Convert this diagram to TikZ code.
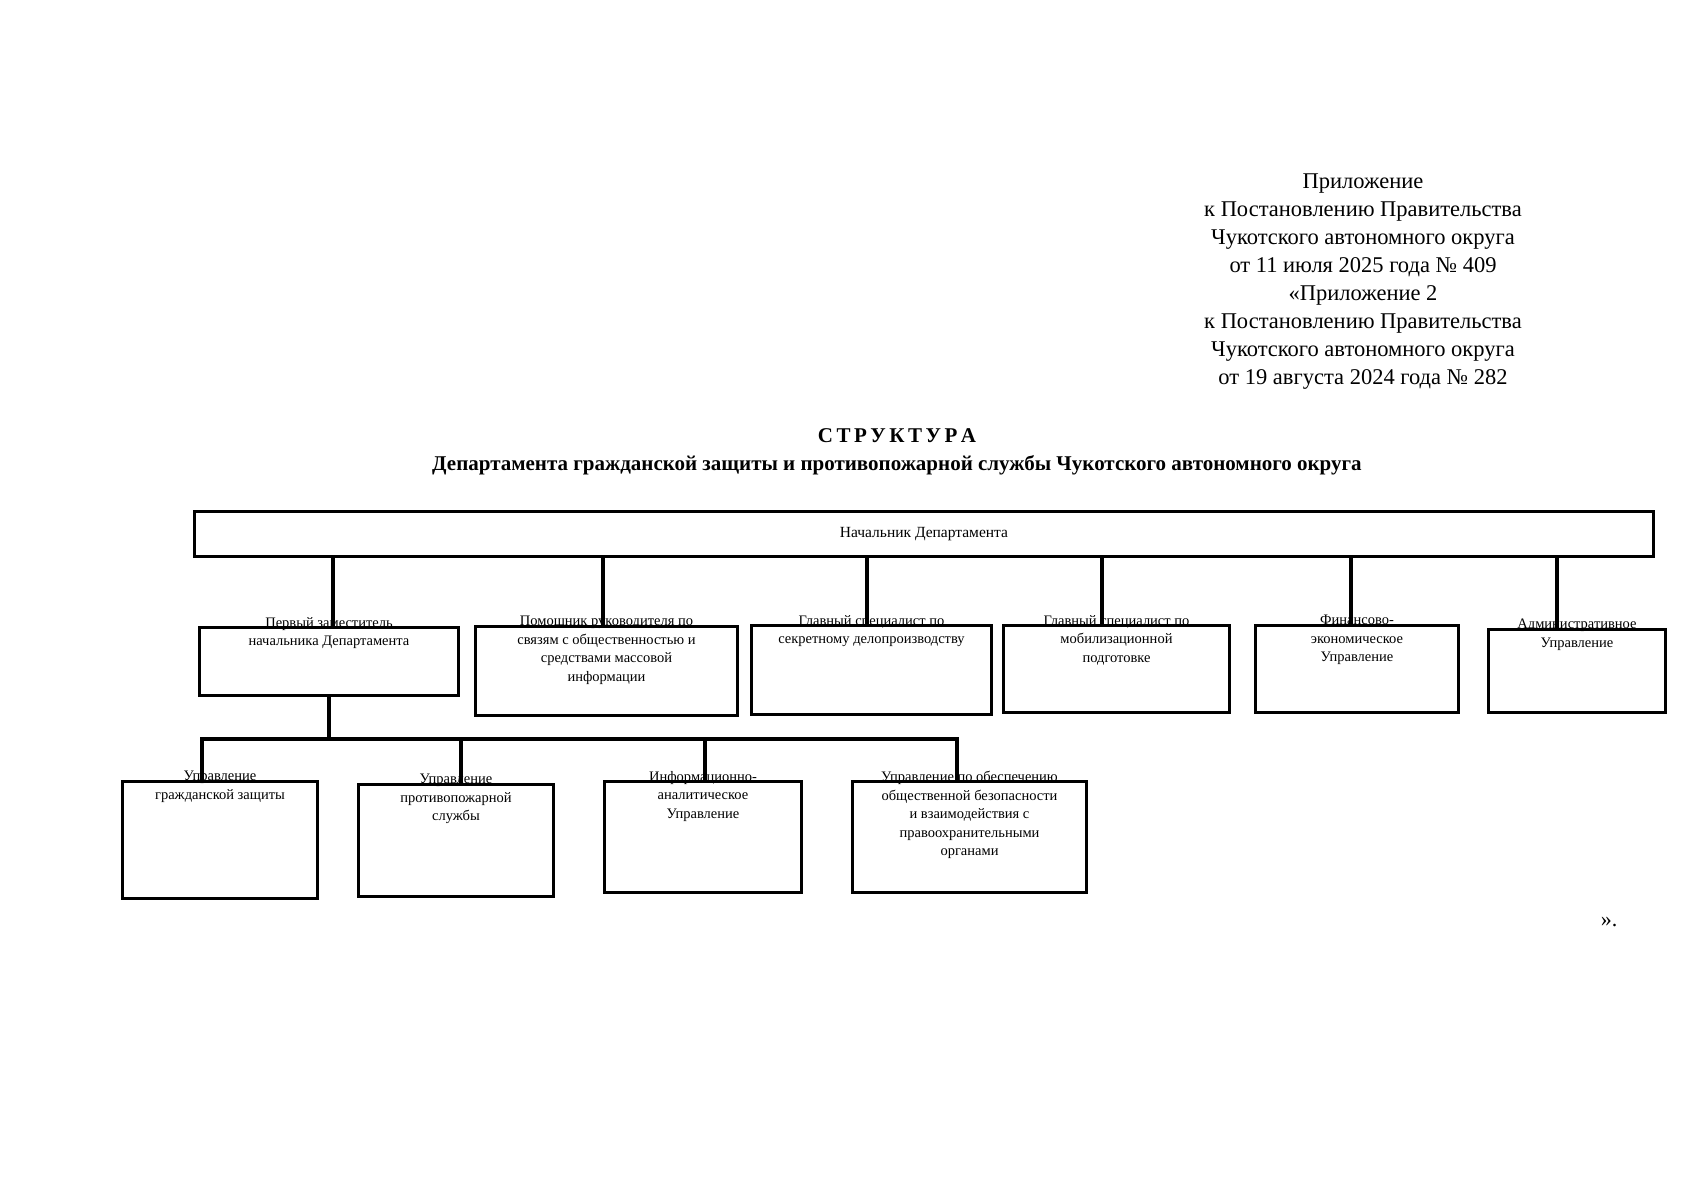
\documentclass[tikz,border=0pt]{standalone}
\usepackage{fontspec}
\setmainfont{Liberation Serif}
\begin{document}
\begin{tikzpicture}[x=1pt,y=-1pt,
  bx/.style={draw,line width=3pt,inner sep=0pt},
  bt/.style={anchor=north,align=center,font=\fontsize{14.5}{18.5}\selectfont,inner sep=0pt},
  ln/.style={line width=3.2pt}]
\useasboundingbox (0,0) rectangle (1698,1200);
\node[align=center,font=\fontsize{22.5}{28}\selectfont,anchor=north] (hdr) at (1363,170) {Приложение\\к Постановлению Правительства\\Чукотского автономного округа\\от 11 июля 2025 года № 409\\«Приложение 2\\к Постановлению Правительства\\Чукотского автономного округа\\от 19 августа 2024 года № 282};
\node[font=\bfseries\fontsize{21}{26}\selectfont] (t1) at (897,436) {С\,Т\,Р\,У\,К\,Т\,У\,Р\,А};
\node[font=\bfseries\fontsize{21}{26}\selectfont] (t2) at (897,465) {Департамента гражданской защиты и противопожарной службы Чукотского автономного округа};
\newcommand{\bxx}[5]{\node[bx,anchor=north west,minimum width=#3-#1,minimum height=#4-#2] (#5) at (#1,#2) {};}
\bxx{193}{510}{1652}{555}{top}
\node[font=\fontsize{15.5}{18}\selectfont] (toptx) at (top.center) {Начальник Департамента};
\bxx{198}{626}{457}{694}{b1}
\bxx{474}{625}{736}{714}{b2}
\bxx{750}{624}{990}{713}{b3}
\bxx{1002}{624}{1228}{711}{b4}
\bxx{1254}{624}{1457}{711}{b5}
\bxx{1487}{628}{1664}{711}{b6}
\bxx{121}{780}{316}{897}{c1}
\bxx{357}{783}{552}{895}{c2}
\bxx{603}{780}{800}{891}{c3}
\bxx{851}{780}{1085}{891}{c4}
\node[bt] (tb1) at ([yshift=9]b1.north) {Первый заместитель\\начальника Департамента};
\node[bt] (tb2) at ([yshift=9]b2.north) {Помощник руководителя по\\связям с общественностью и\\средствами массовой\\информации};
\node[bt] (tb3) at ([yshift=9]b3.north) {Главный специалист по\\секретному делопроизводству};
\node[bt] (tb4) at ([yshift=9]b4.north) {Главный специалист по\\мобилизационной\\подготовке};
\node[bt] (tb5) at ([yshift=9]b5.north) {Финансово-\\экономическое\\Управление};
\node[bt] (tb6) at ([yshift=9]b6.north) {Административное\\Управление};
\node[bt] (tc1) at ([yshift=9]c1.north) {Управление\\гражданской защиты};
\node[bt] (tc2) at ([yshift=9]c2.north) {Управление\\противопожарной\\службы};
\node[bt] (tc3) at ([yshift=9]c3.north) {Информационно-\\аналитическое\\Управление};
\node[bt] (tc4) at ([yshift=9]c4.north) {Управление по обеспечению\\общественной безопасности\\и взаимодействия с\\правоохранительными\\органами};
\foreach \xx/\b in {333/b1,603/b2,867/b3,1102/b4,1351/b5,1557/b6}
  \draw[ln] (\xx,555) -- (\xx,0 |- \b.north);
\coordinate (j) at (329,739);
\draw[ln] (329,694) -- (j);
\draw[ln] (200,739) -- (959,739);
\foreach \xx/\c in {202/c1,461/c2,705/c3,957/c4}
  \draw[ln] (\xx,739) -- (\xx,0 |- \c.north);
\node[font=\fontsize{22}{26}\selectfont] (end) at (1609,922) {».};
\end{tikzpicture}
\end{document}
